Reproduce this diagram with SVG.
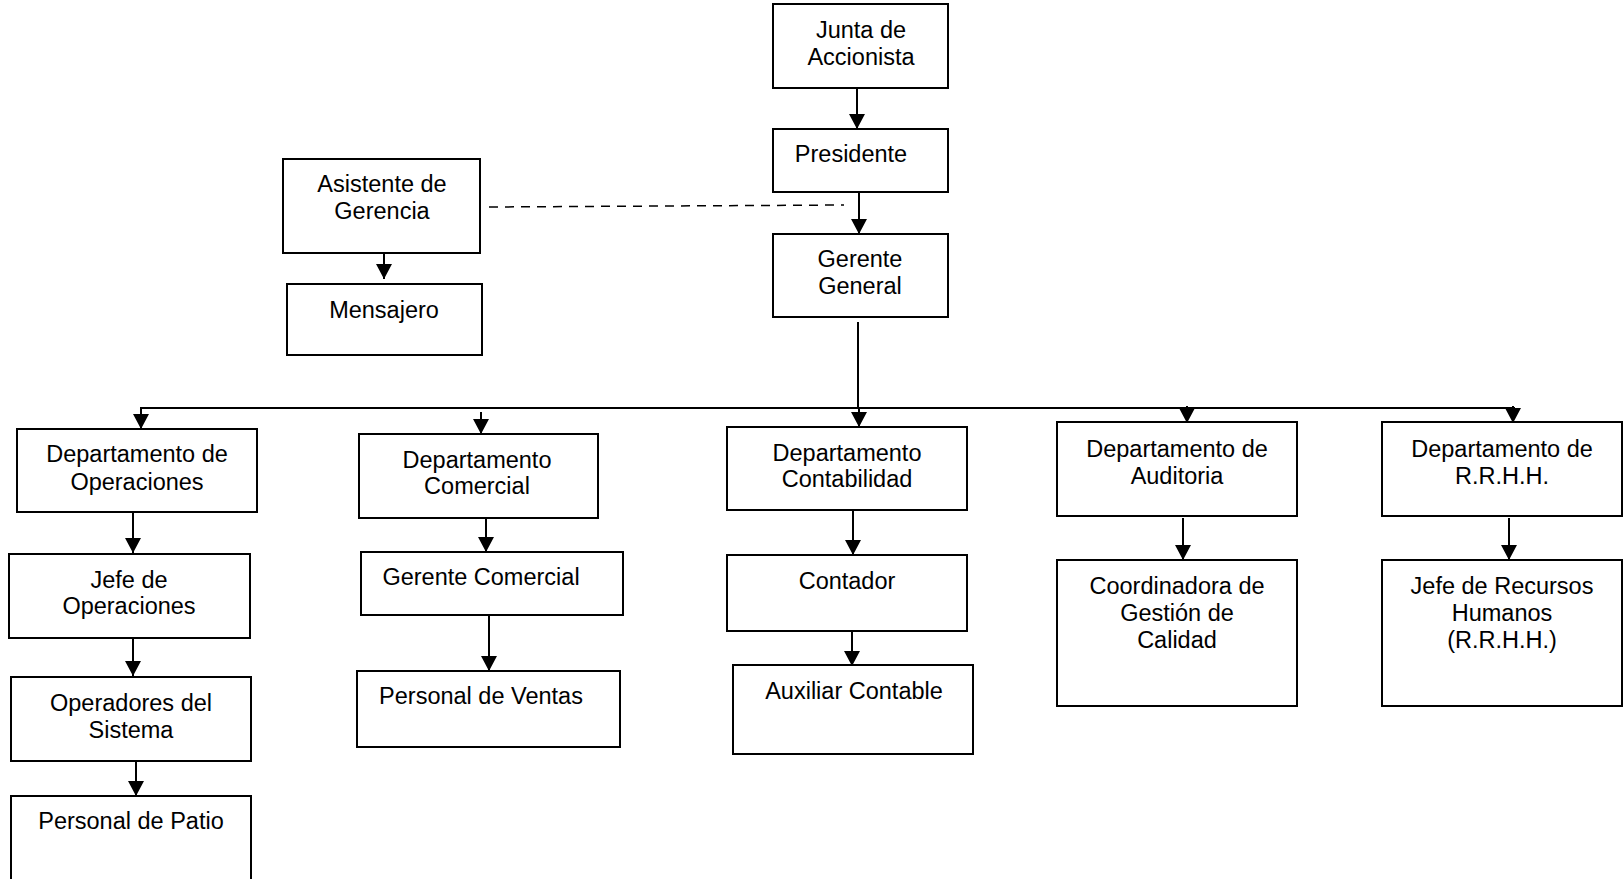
<svg xmlns="http://www.w3.org/2000/svg" width="1623" height="879" viewBox="0 0 1623 879">
<style>
.box{fill:#fff;stroke:#000;stroke-width:2}
.t{font-family:"Liberation Sans",Arial,sans-serif;font-size:23.5px;fill:#000;text-anchor:middle}
.c{stroke:#000;stroke-width:2;fill:none}
.a{stroke:#000;stroke-width:2;fill:none;marker-end:url(#ah)}
</style>
<defs>
<marker id="ah" markerUnits="userSpaceOnUse" markerWidth="15" markerHeight="16" refX="15" refY="8" orient="auto" viewBox="0 0 15 16">
<path d="M0,0 L15,8 L0,16 Z" fill="#000"/>
</marker>
</defs>
<rect width="1623" height="879" fill="#fff"/>
<g id="connectors">
<line class="a" x1="857" y1="88" x2="857" y2="129"/>
<line class="a" x1="859" y1="192" x2="859" y2="234"/>
<line class="a" x1="384" y1="253" x2="384" y2="279"/>
<line x1="489" y1="207" x2="844" y2="205" stroke="#000" stroke-width="1.5" stroke-dasharray="9 7"/>
<line class="c" x1="858" y1="322" x2="858" y2="408" stroke-width="1.5"/>
<line class="c" x1="140" y1="408" x2="1515" y2="408"/>
<line class="a" x1="141" y1="408" x2="141" y2="429"/>
<line class="a" x1="481" y1="412" x2="481" y2="434"/>
<line class="a" x1="859" y1="408" x2="859" y2="427"/>
<line class="a" x1="1187" y1="406" x2="1187" y2="423"/>
<line class="a" x1="1513" y1="406" x2="1513" y2="423"/>
<line class="a" x1="133" y1="509" x2="133" y2="553"/>
<line class="a" x1="133" y1="632" x2="133" y2="676"/>
<line class="a" x1="136" y1="755" x2="136" y2="796"/>
<line class="a" x1="486" y1="511" x2="486" y2="552"/>
<line class="a" x1="489" y1="610" x2="489" y2="671"/>
<line class="a" x1="853" y1="507" x2="853" y2="555"/>
<line class="a" x1="852" y1="623" x2="852" y2="666"/>
<line class="a" x1="1183" y1="518" x2="1183" y2="560"/>
<line class="a" x1="1509" y1="518" x2="1509" y2="560"/>
</g>
<g id="junta"><rect class="box" x="773" y="4" width="175" height="84"/><text class="t" x="861" y="38">Junta de</text><text class="t" x="861" y="65">Accionista</text></g>
<g id="presidente"><rect class="box" x="773" y="129" width="175" height="63"/><text class="t" x="851" y="162">Presidente</text></g>
<g id="gerente-general"><rect class="box" x="773" y="234" width="175" height="83"/><text class="t" x="860" y="267">Gerente</text><text class="t" x="860" y="294">General</text></g>
<g id="asistente"><rect class="box" x="283" y="159" width="197" height="94"/><text class="t" x="382" y="192">Asistente de</text><text class="t" x="382" y="219">Gerencia</text></g>
<g id="mensajero"><rect class="box" x="287" y="284" width="195" height="71"/><text class="t" x="384" y="318">Mensajero</text></g>
<g id="dep-operaciones"><rect class="box" x="17" y="429" width="240" height="83"/><text class="t" x="137" y="462">Departamento de</text><text class="t" x="137" y="490">Operaciones</text></g>
<g id="jefe-operaciones"><rect class="box" x="9" y="554" width="241" height="84"/><text class="t" x="129" y="588">Jefe de</text><text class="t" x="129" y="614">Operaciones</text></g>
<g id="operadores"><rect class="box" x="11" y="677" width="240" height="84"/><text class="t" x="131" y="711">Operadores del</text><text class="t" x="131" y="738">Sistema</text></g>
<g id="personal-patio"><rect class="box" x="11" y="796" width="240" height="100"/><text class="t" x="131" y="829">Personal de Patio</text></g>
<g id="dep-comercial"><rect class="box" x="359" y="434" width="239" height="84"/><text class="t" x="477" y="468">Departamento</text><text class="t" x="477" y="494">Comercial</text></g>
<g id="gerente-comercial"><rect class="box" x="361" y="552" width="262" height="63"/><text class="t" x="481" y="585">Gerente Comercial</text></g>
<g id="personal-ventas"><rect class="box" x="357" y="671" width="263" height="76"/><text class="t" x="481" y="704">Personal de Ventas</text></g>
<g id="dep-contabilidad"><rect class="box" x="727" y="427" width="240" height="83"/><text class="t" x="847" y="461">Departamento</text><text class="t" x="847" y="487">Contabilidad</text></g>
<g id="contador"><rect class="box" x="727" y="555" width="240" height="76"/><text class="t" x="847" y="589">Contador</text></g>
<g id="auxiliar"><rect class="box" x="733" y="665" width="240" height="89"/><text class="t" x="854" y="699">Auxiliar Contable</text></g>
<g id="dep-auditoria"><rect class="box" x="1057" y="422" width="240" height="94"/><text class="t" x="1177" y="457">Departamento de</text><text class="t" x="1177" y="484">Auditoria</text></g>
<g id="coordinadora"><rect class="box" x="1057" y="560" width="240" height="146"/><text class="t" x="1177" y="594">Coordinadora de</text><text class="t" x="1177" y="621">Gestión de</text><text class="t" x="1177" y="648">Calidad</text></g>
<g id="dep-rrhh"><rect class="box" x="1382" y="422" width="240" height="94"/><text class="t" x="1502" y="457">Departamento de</text><text class="t" x="1502" y="484">R.R.H.H.</text></g>
<g id="jefe-rrhh"><rect class="box" x="1382" y="560" width="240" height="146"/><text class="t" x="1502" y="594">Jefe de Recursos</text><text class="t" x="1502" y="621">Humanos</text><text class="t" x="1502" y="648">(R.R.H.H.)</text></g>
</svg>
